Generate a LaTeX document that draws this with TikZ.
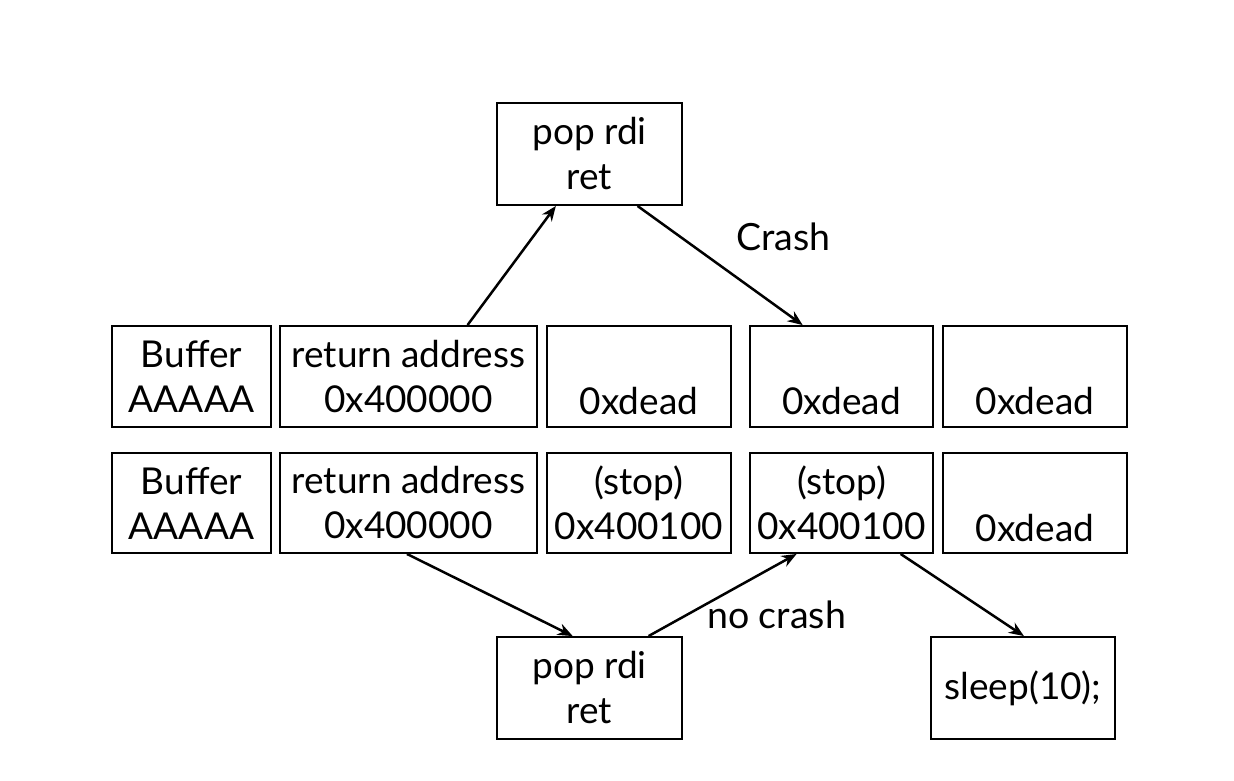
\documentclass[tikz,border=0pt]{standalone}
\usepackage{fontspec}
\setmainfont{Lato}
\usetikzlibrary{arrows.meta,calc}
\begin{document}
\begin{tikzpicture}[x=1pt,y=-1pt,
  cell/.style={draw,line width=1.9pt,inner sep=0pt,align=center,
    font=\fontsize{37}{45}\selectfont},
  conn/.style={line width=2.5pt,-{Stealth[length=15pt,width=12pt]}},
  lbl/.style={font=\fontsize{37.5}{45}\selectfont,inner sep=0pt}]
\useasboundingbox (0,0) rectangle (1234,780);
% top gadget
\node[cell,minimum width=185pt,minimum height=102pt] (gtop) at (589.5,154) {pop rdi\\ret};
% row 1
\node[cell,minimum width=159pt,minimum height=101pt] (a1) at (191.5,376.5) {Buffer\\AAAAA};
\node[cell,minimum width=257pt,minimum height=101pt] (a2) at (408.5,376.5) {return address\\0x400000};
\node[cell,minimum width=184pt,minimum height=101pt] (a3) at (639,376.5) {\strut\\0xdead};
\node[cell,minimum width=183pt,minimum height=101pt] (a4) at (841.5,376.5) {\strut\\0xdead};
\node[cell,minimum width=184pt,minimum height=101pt] (a5) at (1035,376.5) {\strut\\0xdead};
% row 2
\node[cell,minimum width=159pt,minimum height=100pt] (b1) at (191.5,503) {Buffer\\AAAAA};
\node[cell,minimum width=257pt,minimum height=100pt] (b2) at (408.5,503) {return address\\0x400000};
\node[cell,minimum width=184pt,minimum height=100pt] (b3) at (639,503) {(stop)\\0x400100};
\node[cell,minimum width=183pt,minimum height=100pt] (b4) at (841.5,503) {(stop)\\0x400100};
\node[cell,minimum width=184pt,minimum height=100pt] (b5) at (1035,503) {\strut\\0xdead};
% bottom gadgets
\node[cell,minimum width=185pt,minimum height=102pt] (gbot) at (589.5,688) {pop rdi\\ret};
\node[cell,minimum width=184pt,minimum height=102pt] (sleep) at (1023,688) {sleep(10);};
% labels
\node[lbl,anchor=base west] (crash) at (736,250) {Crash};
\node[lbl,anchor=base west] (nocrash) at (707,628) {no crash};
% connectors
\draw[conn] ($(a2.north west)!0.728!(a2.north east)$) -- ($(gtop.south west)!0.32!(gtop.south east)$);
\draw[conn] ($(gtop.south west)!0.757!(gtop.south east)$) -- ($(a4.north west)!0.29!(a4.north east)$);
\draw[conn] ($(b2.south west)!0.494!(b2.south east)$) -- ($(gbot.north west)!0.41!(gbot.north east)$);
\draw[conn] ($(gbot.north west)!0.816!(gbot.north east)$) -- ($(b4.south west)!0.257!(b4.south east)$);
\draw[conn] ($(b4.south west)!0.82!(b4.south east)$) -- ($(sleep.north west)!0.505!(sleep.north east)$);
\end{tikzpicture}
\end{document}
